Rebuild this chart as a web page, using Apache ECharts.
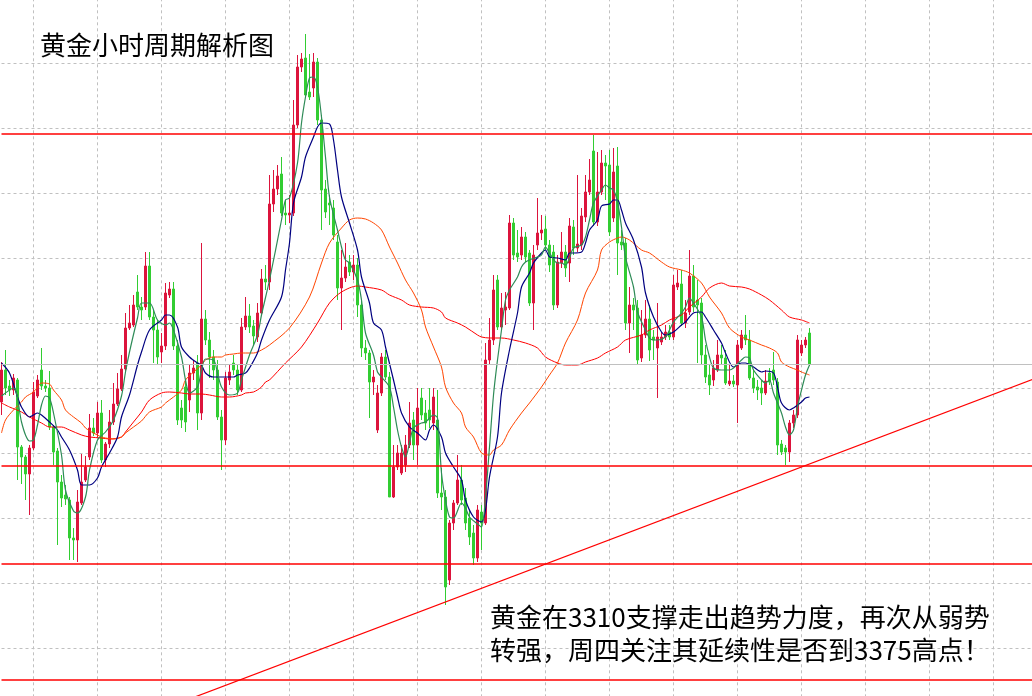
<!DOCTYPE html>
<html>
<head>
<meta charset="utf-8">
<script src="https://cdn.jsdelivr.net/npm/echarts@6/dist/echarts.min.js"></script>
<style>
html,body{margin:0;padding:0;background:#fff;}
#c{width:1032px;height:696px;}
</style>
</head>
<body>
<div id="c"></div>
<script>
// ---- data (hourly bars) ----
const slotCount = 259;
const categories = Array.from({length: slotCount}, (_, i) => 'H' + i);

const opens = [
3322.6,3329.0,3325.8,3325.0,3327.0,3313.6,3311.6,3308.2,3313.4,3323.8,
3329.0,3325.8,3325.4,3317.6,3312.8,3306.6,3304.0,3303.0,3295.4,3295.0,
3302.4,3307.0,3311.6,3317.4,3316.4,3320.4,3311.0,3314.2,3318.6,3322.2,
3325.2,3329.2,3337.4,3338.0,3344.6,3341.6,3341.6,3349.8,3339.6,3337.0,
3332.6,3333.8,3344.0,3345.2,3333.8,3321.4,3325.6,3323.0,3328.4,3330.4,
3320.4,3339.2,3335.0,3331.6,3329.0,3319.6,3315.0,3327.0,3330.4,3329.0,
3325.0,3337.6,3339.8,3337.8,3335.6,3340.4,3347.2,3346.6,3362.2,3365.2,
3368.2,3360.4,3360.0,3360.4,3378.0,3389.6,3391.4,3384.6,3385.4,3390.6,
3379.0,3365.2,3362.4,3361.4,3354.6,3345.4,3347.4,3350.6,3348.6,3350.0,
3342.0,3333.4,3332.4,3326.6,3317.0,3324.4,3331.6,3327.6,3303.6,3309.6,
3308.4,3310.0,3314.0,3319.0,3314.0,3323.4,3320.4,3321.0,3318.4,3319.0,
3304.4,3303.6,3287.0,3298.4,3302.4,3307.0,3303.4,3299.4,3296.4,3291.4,
3300.6,3298.4,3331.0,3335.0,3347.0,3337.6,3341.0,3341.4,3358.4,3352.4,
3352.0,3355.6,3352.4,3342.4,3354.0,3356.4,3357.2,3354.0,3352.6,3342.0,
3350.4,3352.6,3350.4,3357.6,3353.4,3354.0,3359.6,3364.6,3372.8,3358.6,
3364.6,3370.4,3370.0,3359.4,3369.8,3354.6,3354.4,3338.4,3342.0,3341.4,
3331.4,3336.0,3339.2,3335.6,3333.4,3334.6,3335.6,3336.6,3335.6,3345.6,
3346.2,3338.4,3340.6,3347.8,3343.0,3342.4,3332.0,3328.0,3327.0,3329.0,
3332.0,3331.4,3326.2,3326.8,3326.0,3333.4,3336.0,3335.0,3327.4,3325.6,
3325.4,3324.4,3328.4,3329.0,3326.6,3314.2,3313.4,3312.6,3318.4,3320.0,
3332.4,3334.0,3336.4
];
const closes = [
3329.0,3325.4,3325.0,3327.4,3313.6,3311.6,3308.2,3313.4,3324.6,3327.0,
3325.8,3325.4,3317.6,3312.6,3306.6,3303.4,3303.2,3295.4,3295.0,3302.6,
3306.6,3309.6,3317.4,3316.4,3320.4,3311.0,3314.2,3318.6,3322.2,3325.2,
3329.2,3337.4,3338.4,3342.0,3341.6,3341.0,3349.8,3339.6,3337.0,3331.6,
3333.8,3344.4,3345.2,3333.8,3319.0,3319.0,3318.6,3328.4,3329.4,3320.4,
3339.2,3335.0,3331.6,3329.0,3319.6,3315.0,3327.4,3328.6,3329.0,3325.0,
3337.6,3339.8,3337.6,3335.8,3340.4,3347.2,3346.6,3362.2,3365.2,3367.8,
3360.4,3360.0,3360.4,3378.0,3389.6,3391.2,3384.0,3383.6,3390.6,3379.0,
3365.0,3360.6,3362.0,3356.0,3345.4,3347.4,3349.6,3348.6,3350.0,3342.0,
3333.4,3332.4,3326.6,3327.6,3324.4,3331.6,3327.6,3303.6,3309.6,3312.4,
3312.4,3314.0,3318.4,3314.0,3321.4,3320.0,3318.4,3319.0,3323.6,3304.4,
3303.6,3285.6,3298.4,3302.4,3307.0,3303.0,3298.4,3295.6,3291.4,3301.0,
3298.4,3331.0,3335.0,3345.0,3337.6,3341.4,3341.6,3358.4,3352.0,3351.6,
3355.6,3351.6,3342.4,3352.0,3356.4,3357.0,3354.0,3350.0,3342.0,3350.6,
3352.6,3349.4,3357.8,3353.4,3354.2,3359.8,3364.6,3367.0,3358.6,3364.6,
3370.4,3369.8,3356.6,3368.6,3354.4,3354.0,3338.4,3342.0,3341.0,3331.0,
3336.0,3339.2,3333.0,3335.0,3335.6,3335.6,3336.6,3335.6,3346.0,3346.4,
3338.4,3340.4,3347.8,3341.6,3342.0,3332.0,3327.6,3326.0,3329.4,3332.0,
3331.4,3326.4,3326.8,3326.2,3334.0,3336.0,3335.0,3327.4,3325.4,3325.0,
3324.4,3326.8,3326.6,3327.0,3314.0,3312.6,3312.6,3318.4,3320.0,3335.0,
3334.0,3335.0,3330.2
];
const lows = [
3320.0,3324.0,3323.8,3324.0,3307.0,3306.2,3303.0,3300.0,3313.0,3323.4,
3325.0,3324.6,3317.0,3310.0,3294.0,3301.6,3302.0,3291.0,3291.0,3290.6,
3302.0,3306.6,3311.0,3315.8,3315.6,3310.4,3309.6,3313.4,3318.0,3321.8,
3324.8,3328.8,3337.0,3337.6,3341.0,3339.0,3341.0,3339.0,3330.4,3330.0,
3330.4,3333.0,3343.4,3333.0,3318.0,3317.4,3316.6,3320.6,3327.0,3317.0,
3319.0,3334.0,3327.4,3327.0,3319.0,3309.0,3314.0,3326.0,3328.0,3324.0,
3324.6,3337.0,3336.4,3334.0,3334.6,3340.0,3345.0,3345.0,3360.6,3364.0,
3359.8,3358.0,3358.4,3359.8,3377.4,3388.6,3383.4,3383.0,3383.6,3378.0,
3357.0,3359.4,3358.0,3355.0,3343.0,3337.0,3346.6,3347.8,3347.0,3339.6,
3331.6,3331.0,3319.4,3324.0,3316.4,3323.8,3327.0,3303.6,3303.4,3309.0,
3308.0,3308.6,3313.4,3311.0,3310.0,3319.0,3317.0,3317.4,3317.0,3303.4,
3301.0,3282.0,3286.0,3297.0,3302.0,3302.0,3297.0,3294.0,3290.0,3290.6,
3293.0,3298.0,3330.0,3334.0,3337.0,3337.0,3338.0,3341.0,3351.0,3350.6,
3351.0,3350.6,3341.8,3337.0,3353.0,3355.0,3353.0,3348.6,3341.0,3341.4,
3349.4,3347.6,3346.6,3352.0,3352.6,3353.0,3358.6,3364.0,3357.8,3357.8,
3364.0,3363.0,3355.8,3358.6,3348.0,3353.0,3337.0,3332.4,3337.0,3330.0,
3330.6,3335.4,3330.8,3331.0,3323.4,3334.0,3335.0,3335.0,3335.0,3345.0,
3337.8,3337.4,3340.0,3340.6,3330.4,3330.0,3326.4,3324.0,3325.8,3328.6,
3330.0,3326.0,3325.8,3325.6,3318.4,3333.0,3334.0,3327.0,3324.4,3323.0,
3322.0,3324.0,3326.0,3326.0,3312.0,3312.0,3310.0,3310.6,3317.4,3319.4,
3331.8,3333.4,3329.8
];
const highs = [
3330.6,3333.0,3327.0,3328.2,3327.4,3314.0,3312.0,3314.0,3326.6,3328.0,
3333.4,3327.0,3328.8,3318.0,3313.4,3308.0,3306.0,3303.6,3297.4,3305.0,
3312.2,3311.8,3320.2,3319.4,3322.6,3323.0,3314.6,3321.0,3326.4,3328.4,
3332.0,3340.4,3342.0,3344.0,3348.0,3343.6,3352.6,3352.6,3341.0,3339.0,
3336.4,3346.4,3346.6,3346.6,3335.0,3323.0,3327.0,3330.0,3331.0,3332.0,
3354.4,3341.0,3336.6,3333.0,3331.0,3321.0,3328.6,3330.2,3332.0,3330.0,
3339.4,3343.6,3342.2,3339.0,3342.4,3349.2,3350.0,3368.0,3369.0,3370.0,
3371.6,3363.0,3364.0,3383.0,3392.0,3392.4,3396.2,3392.2,3392.4,3391.4,
3380.0,3367.0,3364.0,3363.0,3356.0,3353.0,3354.4,3352.0,3352.0,3351.4,
3343.0,3335.0,3333.0,3329.0,3326.0,3332.4,3333.0,3328.6,3314.0,3314.0,
3314.0,3316.0,3322.6,3320.6,3325.4,3325.4,3323.0,3325.4,3325.4,3325.0,
3309.4,3305.0,3299.0,3303.0,3312.0,3310.0,3305.4,3301.0,3298.0,3302.0,
3302.0,3334.4,3339.4,3348.0,3348.0,3344.4,3344.6,3360.0,3359.4,3357.0,
3357.6,3356.6,3353.0,3354.0,3363.4,3360.0,3359.8,3355.0,3354.0,3352.0,
3356.6,3354.0,3359.4,3359.0,3368.0,3361.4,3368.0,3371.2,3376.0,3372.6,
3373.0,3372.0,3373.0,3373.4,3373.6,3357.0,3355.4,3345.6,3343.4,3343.0,
3341.0,3343.0,3342.0,3337.0,3342.4,3336.6,3338.0,3338.0,3348.0,3349.0,
3349.0,3343.0,3353.0,3350.0,3347.0,3343.4,3334.0,3330.0,3331.0,3335.0,
3334.0,3333.0,3330.0,3328.0,3335.0,3337.0,3340.0,3337.0,3329.0,3327.0,
3327.0,3329.0,3329.4,3332.6,3327.4,3315.0,3314.0,3319.0,3321.0,3336.0,
3335.0,3335.6,3337.4
];

// moving-average lines, read as [bar index, value]
const maFast = [[0,3323.8],[3,3325.4],[5,3318.6],[6,3316.0],[7,3314.8],[8,3315.0],[9,3318.0],[10,3322.0],[11,3323.8],[12,3323.4],[13,3320.4],[15,3312.0],[16,3305.0],[18,3300.8],[19,3300.4],[21,3303.6],[22,3309.0],[24,3315.0],[26,3316.6],[28,3319.0],[30,3323.8],[31,3328.6],[32,3332.6],[34,3339.4],[35,3342.4],[37,3342.4],[39,3339.0],[41,3338.0],[42,3338.4],[43,3337.0],[45,3331.6],[46,3327.0],[47,3324.4],[49,3325.6],[50,3329.0],[51,3331.2],[53,3331.0],[54,3328.4],[55,3325.6],[57,3324.0],[59,3324.4],[60,3327.0],[62,3332.0],[64,3336.0],[65,3340.0],[67,3347.0],[70,3359.0],[71,3363.0],[72,3363.4],[74,3370.4],[75,3378.4],[76,3383.6],[77,3387.4],[78,3387.6],[79,3385.6],[80,3379.6],[81,3371.6],[82,3363.6],[84,3357.0],[85,3353.6],[86,3351.0],[87,3350.4],[89,3347.0],[90,3343.0],[91,3336.4],[93,3332.0],[94,3328.6],[95,3327.6],[97,3325.6],[98,3321.6],[99,3317.0],[100,3313.6],[101,3311.6],[102,3314.4],[103,3317.4],[105,3318.4],[106,3318.6],[108,3320.0],[109,3319.4],[110,3308.4],[111,3303.0],[112,3299.6],[113,3299.4],[115,3302.4],[116,3301.4],[117,3299.6],[119,3298.2],[120,3297.6],[121,3303.6],[122,3313.6],[123,3324.0],[124,3331.0],[125,3337.0],[126,3343.0],[127,3345.0],[129,3347.6],[130,3349.6],[131,3350.6],[132,3351.0],[134,3351.6],[135,3352.0],[136,3353.6],[137,3352.4],[139,3350.4],[140,3350.4],[141,3350.0],[142,3351.4],[143,3353.4],[145,3354.0],[146,3355.6],[147,3359.0],[148,3362.4],[150,3365.0],[151,3366.0],[152,3365.4],[153,3365.0],[154,3362.6],[155,3357.6],[156,3351.6],[158,3345.6],[159,3340.6],[161,3337.0],[162,3335.4],[163,3335.0],[164,3335.0],[166,3335.6],[167,3337.0],[168,3338.6],[170,3340.4],[171,3341.6],[172,3343.4],[173,3342.4],[175,3339.6],[176,3335.0],[177,3331.6],[178,3329.4],[180,3329.0],[181,3329.0],[182,3329.0],[183,3329.4],[185,3331.0],[186,3331.6],[187,3331.4],[188,3329.0],[190,3327.0],[191,3326.4],[192,3327.0],[193,3324.4],[195,3320.4],[196,3317.6],[197,3316.0],[198,3317.0],[199,3321.6],[200,3325.0],[201,3328.0],[202,3330.0]];
const maMid = [[0,3330.4],[2,3328.4],[4,3323.6],[5,3321.6],[7,3319.6],[8,3320.0],[9,3320.4],[10,3320.0],[12,3318.6],[14,3317.0],[15,3315.6],[17,3313.0],[19,3309.0],[20,3306.0],[22,3306.0],[24,3307.4],[25,3309.6],[27,3312.4],[29,3315.6],[30,3319.6],[32,3324.0],[34,3330.0],[35,3332.6],[37,3337.0],[40,3339.0],[41,3340.0],[42,3340.0],[44,3337.6],[45,3333.6],[47,3331.6],[49,3330.4],[50,3330.0],[51,3328.4],[53,3327.6],[54,3327.6],[56,3327.6],[58,3327.6],[59,3328.0],[61,3328.4],[62,3329.4],[64,3332.4],[65,3335.0],[67,3339.0],[70,3343.6],[71,3349.0],[72,3354.4],[73,3362.4],[75,3367.6],[76,3371.6],[78,3375.6],[79,3377.6],[80,3378.4],[82,3378.2],[83,3375.0],[84,3369.0],[85,3363.6],[87,3358.4],[89,3353.0],[90,3347.6],[92,3342.4],[93,3338.4],[95,3337.0],[96,3333.6],[98,3327.0],[99,3323.6],[100,3320.4],[102,3317.6],[104,3316.4],[106,3315.0],[107,3317.0],[108,3318.0],[110,3315.6],[111,3312.4],[113,3309.6],[115,3307.0],[116,3303.0],[118,3299.6],[120,3298.6],[121,3301.0],[122,3307.6],[124,3315.6],[125,3324.4],[127,3333.0],[129,3340.4],[130,3345.6],[132,3348.4],[133,3350.4],[135,3352.4],[136,3353.0],[137,3351.6],[139,3351.4],[141,3351.0],[142,3352.4],[143,3352.4],[145,3352.6],[146,3354.4],[147,3357.0],[149,3359.0],[150,3361.8],[152,3362.2],[153,3363.0],[154,3363.0],[155,3361.0],[156,3358.4],[158,3355.0],[160,3349.6],[161,3344.4],[163,3339.6],[165,3336.6],[166,3336.0],[168,3336.6],[170,3338.0],[171,3338.6],[173,3340.4],[175,3340.6],[176,3339.6],[178,3337.0],[180,3334.4],[181,3332.4],[183,3329.6],[185,3330.4],[186,3330.4],[188,3329.6],[190,3328.6],[191,3328.8],[193,3328.4],[194,3325.6],[195,3322.4],[197,3321.0],[198,3321.4],[200,3322.6],[201,3323.4],[202,3323.6]];
const maSlow = [[0,3316.4],[1,3319.0],[3,3321.0],[5,3322.6],[6,3323.6],[8,3324.6],[9,3325.6],[10,3326.4],[12,3326.2],[13,3325.0],[15,3323.0],[16,3321.0],[18,3319.6],[20,3318.4],[21,3317.4],[23,3316.4],[25,3315.6],[26,3315.4],[28,3315.2],[30,3315.6],[31,3316.4],[33,3317.6],[35,3318.8],[37,3320.6],[40,3321.6],[41,3322.4],[43,3323.6],[45,3325.0],[46,3327.0],[48,3328.6],[50,3330.0],[51,3331.0],[53,3331.6],[55,3331.6],[56,3332.0],[58,3332.2],[60,3332.4],[61,3332.4],[63,3332.4],[65,3333.0],[67,3334.0],[72,3337.4],[77,3343.6],[80,3350.4],[82,3354.4],[85,3357.4],[87,3359.0],[89,3359.4],[91,3359.2],[93,3358.4],[95,3357.0],[97,3353.6],[99,3350.4],[101,3347.0],[103,3344.4],[105,3341.0],[106,3337.6],[108,3333.6],[110,3329.6],[111,3325.6],[113,3322.4],[115,3320.4],[116,3317.6],[118,3315.6],[120,3312.4],[122,3312.0],[123,3313.0],[125,3314.0],[127,3317.0],[130,3320.4],[132,3322.4],[135,3325.6],[137,3328.0],[139,3330.4],[141,3334.4],[144,3339.0],[146,3344.4],[149,3349.0],[150,3353.0],[152,3354.6],[154,3355.4],[155,3355.6],[157,3355.0],[160,3353.0],[162,3352.4],[165,3350.6],[167,3349.6],[170,3349.0],[172,3348.4],[175,3346.4],[177,3343.6],[180,3340.4],[182,3337.4],[185,3335.6],[187,3335.0],[190,3334.0],[192,3333.4],[194,3332.4],[195,3330.6],[197,3329.6],[199,3329.0],[200,3328.6],[202,3328.0]];
const maLong = [[0,3322.4],[2,3321.6],[5,3320.6],[7,3319.6],[10,3318.4],[12,3317.6],[15,3317.6],[17,3317.0],[20,3316.0],[22,3315.6],[25,3315.4],[27,3315.2],[30,3315.6],[31,3316.6],[33,3318.6],[35,3320.6],[37,3323.0],[40,3324.4],[42,3324.6],[45,3324.4],[47,3324.2],[50,3324.2],[52,3324.0],[55,3323.6],[57,3323.6],[60,3324.0],[61,3324.4],[63,3324.6],[65,3325.6],[66,3326.6],[67,3327.0],[71,3330.4],[75,3333.6],[79,3338.4],[82,3342.4],[85,3344.6],[89,3345.8],[91,3345.6],[95,3345.0],[97,3344.0],[100,3343.0],[102,3342.0],[105,3341.6],[108,3341.4],[110,3340.6],[111,3339.4],[114,3338.4],[116,3337.6],[119,3336.0],[120,3335.6],[122,3335.4],[125,3335.4],[128,3335.0],[131,3334.4],[134,3333.4],[136,3331.6],[139,3330.4],[141,3330.0],[144,3330.0],[146,3330.6],[149,3331.4],[151,3332.4],[154,3333.6],[156,3335.0],[160,3336.0],[162,3337.0],[165,3338.0],[167,3339.0],[170,3340.0],[172,3341.6],[175,3343.6],[177,3345.4],[180,3346.4],[182,3345.8],[185,3345.6],[187,3345.2],[190,3344.0],[192,3343.0],[195,3341.0],[197,3339.6],[200,3339.0],[202,3338.4]];

// horizontal levels, trend line, texts
const levelLines = [3376.2, 3309.8, 3290.2, 3267.0];
const trendLine = [[48, 3263.5], [258, 3327.2]];
const titleText = '黄金小时周期解析图';
const noteLines = ['黄金在3310支撑走出趋势力度，再次从弱势', '转强，周四关注其延续性是否到3375高点！'];

// ---- chart ----
const candles = opens.map((o, i) => [o, closes[i], lows[i], highs[i]]);
const lastClose = closes[closes.length - 1];
const gridDash = {color: '#c0c0c0', width: 1, type: [3, 3]};
const textFont = '"Noto Sans CJK SC", "Noto Sans", sans-serif';

const chart = echarts.init(document.getElementById('c'), null, {renderer: 'canvas'});
function maSeries(name, data, color, width) {
  return {
    name, type: 'line', data, smooth: 0.3, showSymbol: false, symbol: 'none',
    lineStyle: {color, width}, silent: true, z: 3
  };
}
chart.setOption({
  animation: false,
  backgroundColor: '#ffffff',
  grid: {left: 1.5, top: -1.7, width: 1032, height: 715, containLabel: false, outerBoundsMode: 'none'},
  xAxis: {
    type: 'category', data: categories, boundaryGap: false,
    axisLine: {show: false}, axisTick: {show: false}, axisLabel: {show: false},
    splitLine: {show: true, interval: (i) => i % 16 === 8, lineStyle: gridDash}
  },
  yAxis: [
    {type: 'value', min: 3260.34, max: 3403.34, show: false, scale: true, splitLine: {show: false}},
    {type: 'value', min: 0, max: 11, interval: 1, position: 'right',
     axisLine: {show: false}, axisTick: {show: false}, axisLabel: {show: false},
     splitLine: {show: true, lineStyle: gridDash}}
  ],
  series: [
    {
      name: 'XAUUSD H1', type: 'candlestick', data: candles, barWidth: 2,
      itemStyle: {color: '#DC143C', color0: '#32CD32', borderColor: '#DC143C', borderColor0: '#32CD32', borderWidth: 1},
      z: 2, silent: true
    },
    maSeries('MA-slow', maLong, '#FF0000', 1),
    maSeries('MA-mid', maSlow, '#FF4500', 1),
    maSeries('MA-fast2', maMid, '#000080', 1.2),
    maSeries('MA-fast', maFast, '#2E8B57', 1.2),
    {
      name: 'trend', type: 'line', data: trendLine, showSymbol: false, symbol: 'none',
      lineStyle: {color: '#FF0000', width: 1.2}, silent: true, z: 4,
      markLine: {
        symbol: 'none', silent: true, label: {show: false},
        data: [
          ...levelLines.map(v => ({yAxis: v, lineStyle: {color: '#FF0000', width: 1.5, type: 'solid'}})),
          {yAxis: lastClose, lineStyle: {color: '#c0c0c0', width: 1, type: 'solid'}}
        ]
      }
    }
  ],
  graphic: [
    {type: 'text', left: 40, top: 32, z: 100, style: {text: titleText, fontSize: 26, fontFamily: textFont, fill: '#000'}},
    {type: 'text', left: 490, top: 604, z: 100, style: {text: noteLines[0], fontSize: 26, fontFamily: textFont, fill: '#000'}},
    {type: 'text', left: 490, top: 637, z: 100, style: {text: noteLines[1], fontSize: 26, fontFamily: textFont, fill: '#000'}}
  ]
});
</script>
</body>
</html>
